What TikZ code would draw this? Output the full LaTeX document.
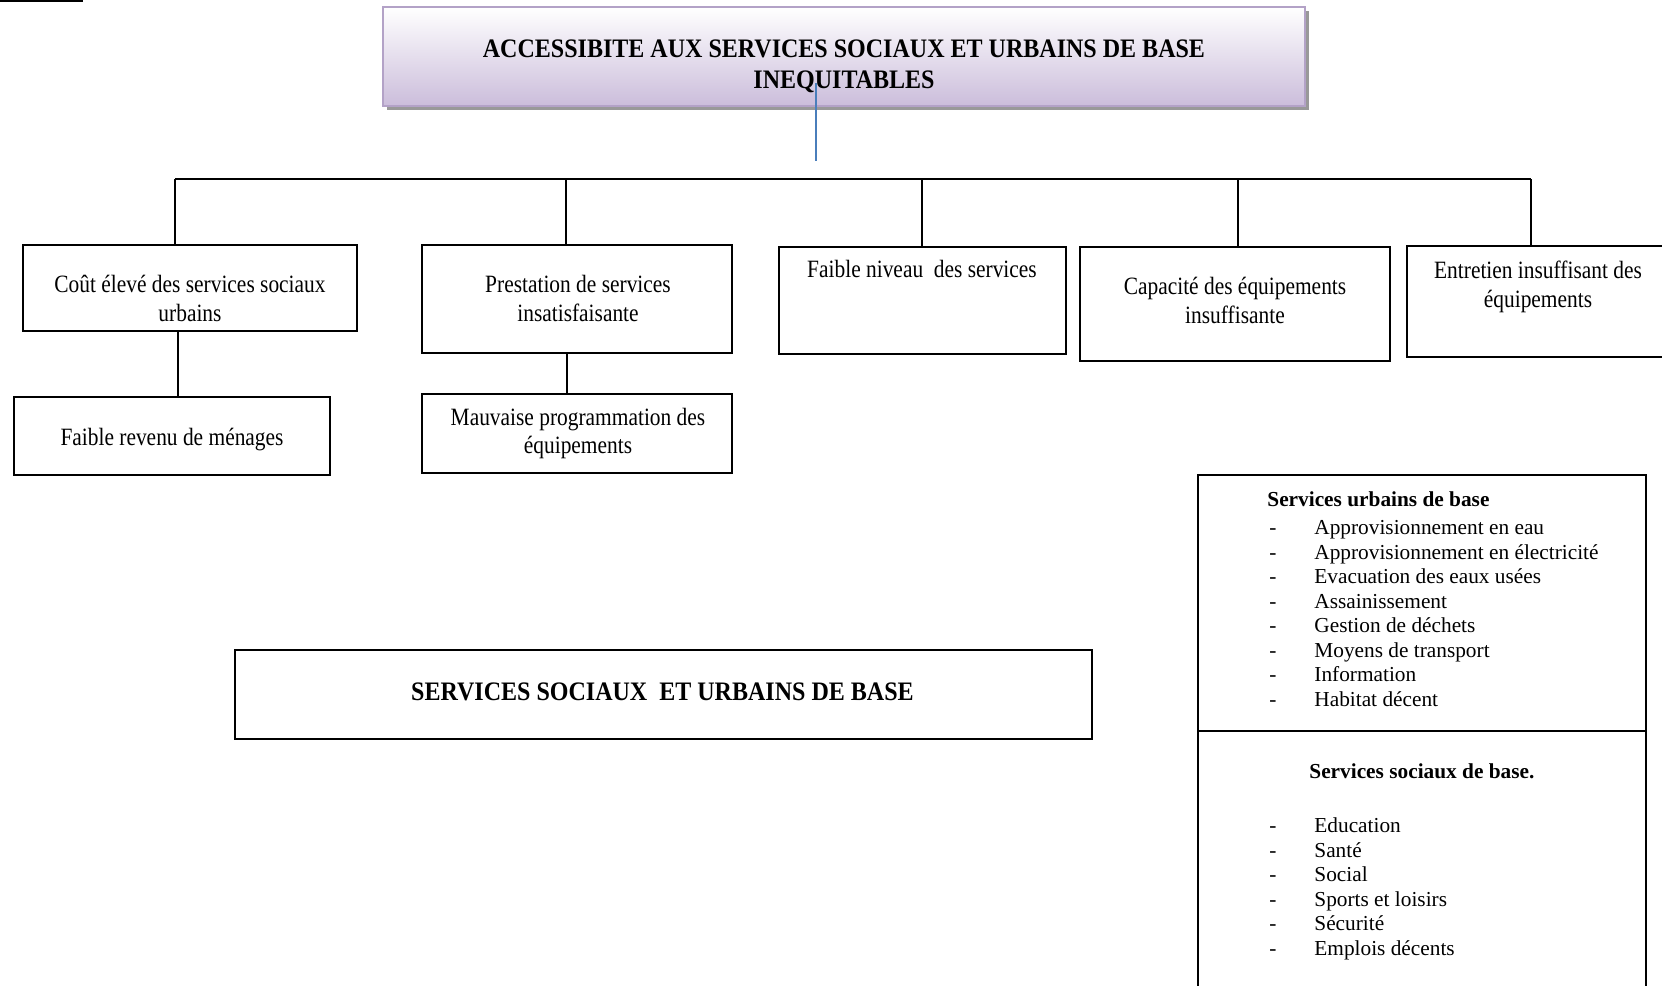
\documentclass[tikz,border=0pt]{standalone}
\usepackage{fontspec}
\setmainfont{Liberation Serif}
\newfontfamily\condfont{Liberation Serif}[FakeStretch=0.86]
\newfontfamily\capsfont{Liberation Serif}[FakeStretch=0.9]
\usetikzlibrary{fit,shadows}

\definecolor{lavbottom}{HTML}{CBBDDB}
\definecolor{lavborder}{HTML}{B3A2C7}
\definecolor{linkblue}{HTML}{4A7EBB}

\newcommand\boxtext{\condfont\fontsize{12.45pt}{14.3pt}\selectfont}
\newcommand\capstext{\capsfont\bfseries\fontsize{13.35pt}{15.35pt}\selectfont}
\newcommand\listtext{\fontsize{10.66pt}{12.25pt}\selectfont}

\begin{document}
\begin{tikzpicture}[x=0.5pt,y=-0.5pt,
  boxst/.style={draw=black, line width=0.9pt, inner sep=0pt},
  titlebox/.style={draw=lavborder, line width=1.2pt, inner sep=0pt,
    top color=white, bottom color=lavbottom,
    drop shadow={shadow xshift=2pt, shadow yshift=-2pt, fill=black!40, opacity=1}},
  conn/.style={draw=black, line width=0.7pt},
  blueline/.style={draw=linkblue, line width=0.65pt},
  lbl/.style={inner sep=0pt, align=center, font=\boxtext},
  capslbl/.style={inner sep=0pt, align=center, font=\capstext},
  itemlbl/.style={inner sep=0pt, anchor=mid west, font=\listtext},
  headlbl/.style={inner sep=0pt, anchor=mid west, font=\listtext\bfseries}]
\useasboundingbox (0,0) rectangle (1662,986);
\clip (0,0) rectangle (1662,986);

% short rule in the upper left corner
\coordinate (ul1) at (0,1);
\coordinate (ul2) at (83,1);
\draw[conn] (ul1) -- (ul2);

% title box
\node[titlebox, fit={(383,7) (1305,106)}] (title) {};
\node[capslbl] (titletext) at (844,66.5)
  {ACCESSIBITE AUX SERVICES SOCIAUX ET URBAINS DE BASE\\INEQUITABLES};
\coordinate (bt) at (816,83);
\coordinate (bb) at (816,161);
\draw[blueline] (bt) -- (bb);

% first row of boxes
\node[boxst, fit={(23,245) (357,331)}] (b1) {};
\node[boxst, fit={(422,245) (732,353)}] (b2) {};
\node[boxst, fit={(779,247) (1066,354)}] (b3) {};
\node[boxst, fit={(1080,247) (1390,361)}] (b4) {};
\node[boxst, fit={(1407,246) (1700,357)}] (b5) {};

\node[lbl] (t1) at (190,298.5) {Coût élevé des services sociaux\\urbains};
\node[lbl] (t2) at (578,298.5) {Prestation de services\\insatisfaisante};
\node[lbl] (t3) at (922,269) {Faible niveau\ \ des services};
\node[lbl] (t4) at (1235,300.5) {Capacité des équipements\\insuffisante};
\node[lbl] (t5) at (1538,287) {Entretien insuffisant des\\équipements};

% bus and drops
\coordinate (d1) at (175,179);
\coordinate (d2) at (566,179);
\coordinate (d3) at (922,179);
\coordinate (d4) at (1238,179);
\coordinate (d5) at (1531,179);
\draw[conn] (d1) -- (d5);
\draw[conn] (d1) -- (d1 |- b1.north);
\draw[conn] (d2) -- (d2 |- b2.north);
\draw[conn] (d3) -- (d3 |- b3.north);
\draw[conn] (d4) -- (d4 |- b4.north);
\draw[conn] (d5) -- (d5 |- b5.north);

% second row
\node[boxst, fit={(14,397) (330,475)}] (b6) {};
\node[boxst, fit={(422,394) (732,473)}] (b7) {};
\node[lbl] (t6) at (172,440) {Faible revenu de ménages};
\node[lbl] (t7) at (578,433.5) {Mauvaise programmation des\\équipements};
\coordinate (k1) at (178,0);
\coordinate (k2) at (567,0);
\draw[conn] (b1.south -| k1) -- (b6.north -| k1);
\draw[conn] (b2.south -| k2) -- (b7.north -| k2);

% central box
\node[boxst, fit={(235,650) (1092,739)}] (b8) {};
\node[capslbl] (t8) at (662.5,692) {SERVICES SOCIAUX\ \ ET URBAINS DE BASE};

% list box on the right
\node[boxst, fit={(1198,475) (1646,1010)}] (rb) {};
\coordinate (dv) at (0,731);
\draw[boxst] (rb.west |- dv) -- (rb.east |- dv);

\node[headlbl] (h1) at (1267,502) {Services urbains de base};
\foreach \txt [count=\i] in {Approvisionnement en eau,
    Approvisionnement en électricité,
    Evacuation des eaux usées,
    Assainissement,
    Gestion de déchets,
    Moyens de transport,
    Information,
    Habitat décent}{
  \node[itemlbl] (ud\i) at (1269,{530+24.5*(\i-1)}) {-};
  \node[itemlbl] (ui\i) at (1314,{530+24.5*(\i-1)}) {\txt};
}

\node[headlbl] (h2) at (1309,774) {Services sociaux de base.};
\foreach \txt [count=\i] in {Education,
    Santé,
    Social,
    Sports et loisirs,
    Sécurité,
    Emplois décents}{
  \node[itemlbl] (sd\i) at (1269,{828+24.5*(\i-1)}) {-};
  \node[itemlbl] (si\i) at (1314,{828+24.5*(\i-1)}) {\txt};
}
\end{tikzpicture}
\end{document}
